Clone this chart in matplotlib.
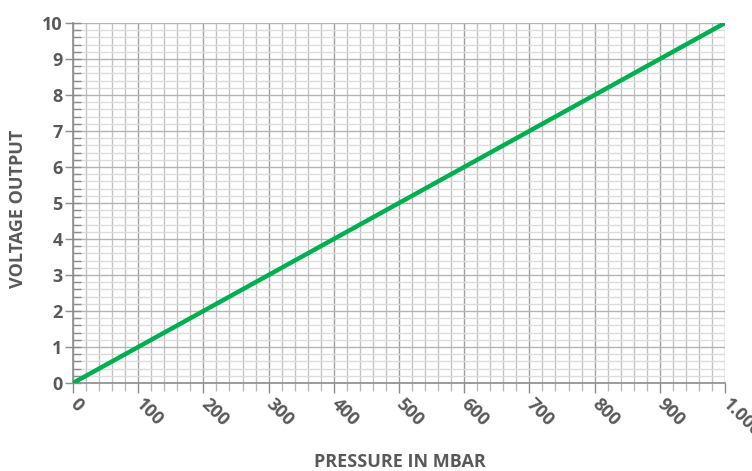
import matplotlib
matplotlib.use("Agg")
import matplotlib.pyplot as plt
import numpy as np
from matplotlib.ticker import MultipleLocator

pressure = [0, 1000]
voltage = [0, 10]
x_ticks = [0, 100, 200, 300, 400, 500, 600, 700, 800, 900, 1000]
x_tick_labels = ["0", "100", "200", "300", "400", "500", "600", "700", "800", "900", "1.000"]
y_ticks = [0, 1, 2, 3, 4, 5, 6, 7, 8, 9, 10]

plt.rcParams['font.family'] = ['Open Sans', 'DejaVu Sans']
txt = '#595959'

fig = plt.figure(figsize=(7.52, 4.71), dpi=100)
ax = fig.add_axes([73/752, 1-383/471, (725-73)/752, (383-23)/471])

ax.plot(pressure, voltage, color='#00B050', lw=3.2, solid_capstyle='butt', zorder=5)

ax.set_xlim(0, 1000)
ax.set_ylim(0, 10)
ax.set_xticks(x_ticks)
ax.set_xticklabels(x_tick_labels)
ax.set_yticks(y_ticks)
ax.xaxis.set_minor_locator(MultipleLocator(20))
ax.yaxis.set_minor_locator(MultipleLocator(0.2))

ax.grid(which='major', axis='x', color='#a0a0a0', lw=1.0)
ax.grid(which='minor', axis='x', color='#c2c2c2', lw=1.0)
ax.grid(which='major', axis='y', color='#b4b4b4', lw=1.0)
ax.grid(which='minor', axis='y', color='#dcdcdc', lw=1.0)
ax.set_axisbelow(True)

for s in ['top', 'right']:
    ax.spines[s].set_visible(False)
for s in ['left', 'bottom']:
    ax.spines[s].set_color('#8c8c8c')
    ax.spines[s].set_linewidth(1.2)

ax.tick_params(axis='y', which='major', direction='inout', length=11, color='#8c8c8c', width=1,
               labelsize=13, labelcolor=txt, pad=2)
ax.tick_params(axis='y', which='minor', direction='in', length=6, color='#8c8c8c', width=1)
ax.tick_params(axis='x', which='major', direction='out', length=7, color='#8c8c8c', width=1,
               labelsize=13, labelcolor=txt, pad=6)
ax.tick_params(axis='x', which='minor', direction='out', length=6, color='#b8b8b8', width=1)

for lab in ax.get_yticklabels():
    lab.set_fontweight('bold')
for lab in ax.get_xticklabels():
    lab.set_fontweight('bold')
    lab.set_rotation(-45)
    lab.set_ha('left')
    lab.set_va('center')
    lab.set_rotation_mode('anchor')

ax.set_xlabel('PRESSURE IN MBAR', fontsize=13, fontweight='bold', color=txt)
ax.xaxis.set_label_coords(0.5, (471-462)/471, transform=fig.transFigure)
ax.xaxis.label.set_va('center')
ax.xaxis.label.set_x(400/752)
ax.set_ylabel('VOLTAGE OUTPUT', fontsize=13, fontweight='bold', color=txt)
ax.yaxis.set_label_coords(18/752, 1-209/471, transform=fig.transFigure)
ax.yaxis.label.set_va('center')

fig.savefig('out.png', dpi=100, facecolor='white')
